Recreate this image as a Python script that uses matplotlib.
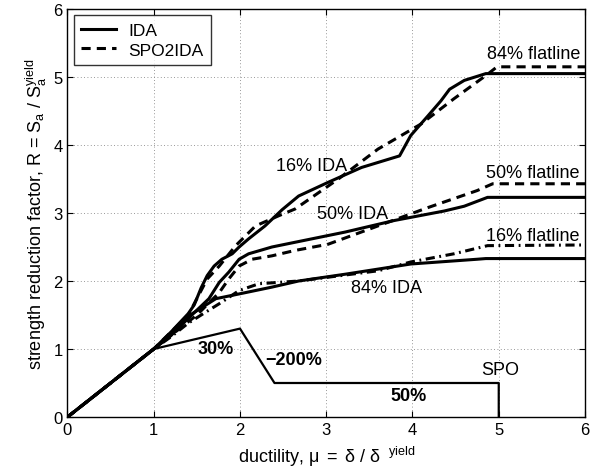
import matplotlib
matplotlib.use("Agg")
import matplotlib.pyplot as plt

plt.rcParams['font.family'] = ['Liberation Sans', 'DejaVu Sans']
plt.rcParams['mathtext.fontset'] = 'custom'
plt.rcParams['mathtext.rm'] = 'Liberation Sans'
plt.rcParams['mathtext.it'] = 'Liberation Sans'
plt.rcParams['mathtext.bf'] = 'Liberation Sans:bold'

# SPO (static pushover) backbone
spo_x = [0, 1, 2, 2.4, 5, 5]
spo_y = [0, 1, 1.3, 0.5, 0.5, 0]

# IDA fractiles (solid)
ida16_x = [0, 1, 1.2, 1.4, 1.47, 1.55, 1.62, 1.7, 1.79, 1.91, 1.99, 2.1, 2.29, 2.49, 2.68, 3.02, 3.41, 3.85, 3.98, 4.18, 4.33, 4.43, 4.6, 4.85, 6]
ida16_y = [0, 1, 1.25, 1.52, 1.65, 1.9, 2.08, 2.22, 2.32, 2.40, 2.50, 2.62, 2.81, 3.05, 3.25, 3.45, 3.67, 3.84, 4.14, 4.43, 4.65, 4.82, 4.95, 5.05, 5.05]
ida50_x = [0, 1, 1.2, 1.4, 1.64, 1.76, 1.87, 1.99, 2.1, 2.37, 2.64, 3.22, 3.79, 4.37, 4.6, 4.87, 6]
ida50_y = [0, 1, 1.2, 1.45, 1.74, 1.98, 2.13, 2.32, 2.40, 2.50, 2.57, 2.72, 2.89, 3.03, 3.10, 3.23, 3.23]
ida84_x = [0, 1, 1.2, 1.41, 1.72, 1.99, 2.37, 2.68, 3.22, 3.98, 4.75, 4.85, 6]
ida84_y = [0, 1, 1.2, 1.49, 1.74, 1.81, 1.91, 2.0, 2.10, 2.25, 2.32, 2.33, 2.33]

# SPO2IDA fractiles
s2i16_x = [0, 1, 1.2, 1.4, 1.62, 1.76, 1.95, 2.18, 2.45, 2.64, 3.14, 3.6, 4.1, 4.48, 4.87, 4.98, 6]
s2i16_y = [0, 1, 1.25, 1.5, 2.03, 2.22, 2.52, 2.81, 2.96, 3.06, 3.5, 3.94, 4.31, 4.68, 5.04, 5.15, 5.15]
s2i50_x = [0, 1, 1.2, 1.5, 1.76, 1.87, 1.99, 2.14, 2.37, 2.64, 3.02, 3.6, 4.18, 4.75, 4.93, 6]
s2i50_y = [0, 1, 1.2, 1.5, 1.83, 2.03, 2.22, 2.32, 2.37, 2.45, 2.54, 2.81, 3.08, 3.33, 3.43, 3.43]
s2i84_x = [0, 1, 1.2, 1.4, 1.6, 1.79, 1.99, 2.22, 2.68, 3.6, 3.98, 4.48, 4.87, 6]
s2i84_y = [0, 1, 1.18, 1.38, 1.54, 1.69, 1.86, 1.96, 2.0, 2.15, 2.28, 2.40, 2.52, 2.53]

fig = plt.figure(figsize=(5.93, 4.77), dpi=100)
ax = fig.add_axes([0.1138, 0.1237, 0.8727, 0.8553])

lw = 2.2
ax.plot(ida16_x, ida16_y, 'k-', lw=lw, label='IDA')
ax.plot(s2i16_x, s2i16_y, 'k--', lw=lw, dashes=(3, 2), label='SPO2IDA')
ax.plot(ida50_x, ida50_y, 'k-', lw=lw)
ax.plot(s2i50_x, s2i50_y, 'k--', lw=lw, dashes=(3, 2))
ax.plot(ida84_x, ida84_y, 'k-', lw=lw)
ax.plot(s2i84_x, s2i84_y, 'k', lw=lw, dashes=(3, 1.5, 0.6, 1.5))
ax.plot(spo_x, spo_y, 'k-', lw=1.6)

fs = 13
ax.text(5.40, 5.34, '84% flatline', ha='center', va='center', fontsize=fs)
ax.text(5.40, 3.60, '50% flatline', ha='center', va='center', fontsize=fs)
ax.text(5.40, 2.67, '16% flatline', ha='center', va='center', fontsize=fs)
ax.text(2.83, 3.70, '16% IDA', ha='center', va='center', fontsize=fs)
ax.text(3.31, 2.99, '50% IDA', ha='center', va='center', fontsize=fs)
ax.text(3.70, 1.91, '84% IDA', ha='center', va='center', fontsize=fs)
ax.text(1.72, 1.0, '30%', ha='center', va='center', fontsize=fs, fontweight='bold')
ax.text(2.62, 0.85, '\u2212200%', ha='center', va='center', fontsize=fs, fontweight='bold')
ax.text(3.96, 0.31, '50%', ha='center', va='center', fontsize=fs, fontweight='bold')
ax.text(5.02, 0.70, 'SPO', ha='center', va='center', fontsize=fs)

ax.set_xlim(0, 6)
ax.set_ylim(0, 6)
ax.set_xticks(range(7))
ax.set_yticks(range(7))
ax.grid(True, color='#777777', linestyle=(0, (1, 3)), linewidth=0.6)
ax.tick_params(direction='in', top=True, right=True, labelsize=12, length=4)
for s in ax.spines.values():
    s.set_linewidth(1.0)

ax.set_xlabel(r'ductility, $\mu\ =\ \delta\ /\ \delta^{\ \ \mathrm{yield}}$', fontsize=fs, labelpad=5)
ax.set_ylabel(r'strength reduction factor, R = S$_\mathrm{a}$ / S$_\mathrm{a}^\mathrm{yield}$', fontsize=fs, labelpad=3)

leg = ax.legend(loc='upper left', fontsize=12.5, frameon=True, fancybox=False,
                edgecolor='black', handlelength=2.0, borderpad=0.45, labelspacing=0.25,
                borderaxespad=0.35, handletextpad=0.7)
leg.get_frame().set_linewidth(1.0)

fig.savefig('out.png', dpi=100)
